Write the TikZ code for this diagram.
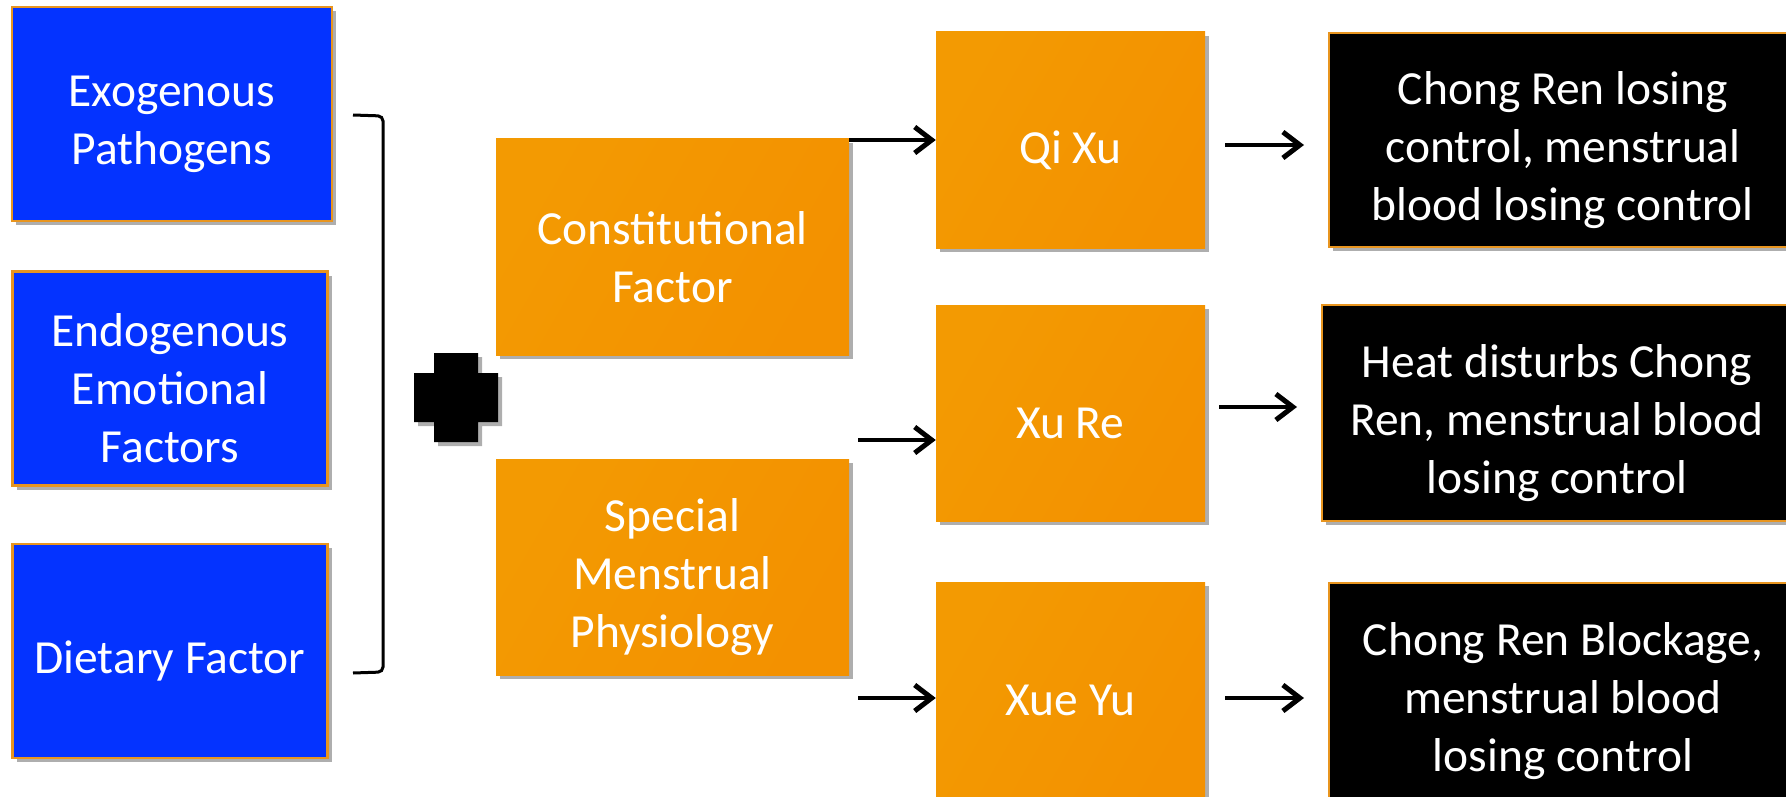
\documentclass[tikz,border=0pt]{standalone}
\usepackage{fontspec}
\setmainfont{Carlito}
\usetikzlibrary{shadows,arrows.meta}
\definecolor{bblue}{HTML}{0433FF}
\definecolor{bord}{HTML}{E8951F}
\definecolor{orgA}{HTML}{F39A02}
\definecolor{orgB}{HTML}{F39100}
\begin{document}
\begin{tikzpicture}[x=1pt,y=-1pt,
  shad/.style={drop shadow={shadow xshift=4pt,shadow yshift=-4pt,opacity=0.45,fill=black!70}},
  txt/.style={text=white, inner sep=0pt, align=center, font=\fontsize{47.5}{58}\selectfont},
  boxtext/.style={label={[txt,yshift=-10pt]center:{#1}}},
  bluebox/.style={shad, inner sep=0pt, draw=bord, line width=2.5pt, fill=bblue},
  orangebox/.style={shad, inner sep=0pt, left color=orgA, right color=orgB, shading angle=60},
  blackbox/.style={shad, inner sep=0pt, draw=bord, line width=2.5pt, fill=black},
  arr/.style={line width=4pt, -{Straight Barb[length=17pt,width=26pt,line width=5pt]}},
  brk/.style={line width=3pt, rounded corners=5pt}
]
\useasboundingbox (0,0) rectangle (1786,797);
\clip (0,0) rectangle (1786,797);

% left blue boxes
\node[bluebox, minimum width=320pt, minimum height=214pt, boxtext={Exogenous\\Pathogens}] (exo) at (172,114) {};
\node[bluebox, minimum width=315pt, minimum height=214pt, boxtext={Endogenous\\Emotional\\Factors}] (endo) at (170,378.5) {};
\node[bluebox, minimum width=315pt, minimum height=214pt, boxtext={Dietary Factor}] (diet) at (170,651) {};

% bracket
\coordinate (bt) at (353,115);
\coordinate (bb) at (353,673);
\draw[brk] (bt) -- ++(30,1) -- ++(0,556) -- (bb);

% plus sign
\path[shad, fill=black] (434,353) -- (478,353) -- (478,373) -- (498,373) -- (498,422) -- (478,422)
  -- (478,442) -- (434,442) -- (434,422) -- (414,422) -- (414,373) -- (434,373) -- cycle;

% middle orange boxes
\node[orangebox, minimum width=353pt, minimum height=216pt, boxtext={Constitutional\\Factor}] (const) at (672.5,247) {};
\node[orangebox, minimum width=353pt, minimum height=216pt, boxtext={Special\\Menstrual\\Physiology}] (spec) at (672.5,567) {};

% right orange boxes
\node[orangebox, minimum width=269pt, minimum height=216pt, boxtext={Qi Xu}] (qixu) at (1070.5,140) {};
\node[orangebox, minimum width=269pt, minimum height=216pt, boxtext={Xu Re}] (xure) at (1070.5,413) {};
\node[orangebox, minimum width=269pt, minimum height=216pt, boxtext={Xue Yu}] (xueyu) at (1070.5,690) {};

% black boxes
\node[blackbox, minimum width=468pt, minimum height=214pt, boxtext={Chong Ren losing\\control, menstrual\\blood losing control}] (b1) at (1563,140) {};
\node[blackbox, minimum width=470pt, minimum height=216pt, boxtext={Heat disturbs Chong\\Ren, menstrual blood\\losing control}] (b2) at (1557,413) {};
\node[blackbox, minimum width=468pt, minimum height=216pt, boxtext={Chong Ren Blockage,\\menstrual blood\\losing control}] (b3) at (1563,691) {};

% arrows into second column
\draw[arr] (const.north east |- qixu.west) -- (qixu.west);
\coordinate (s2) at (858,440);
\draw[arr] (s2) -- (s2 -| xure.west);
\coordinate (s3) at (858,698);
\draw[arr] (s3) -- (s3 -| xueyu.west);

% arrows to outcomes
\coordinate (o1a) at (1225,145);
\coordinate (o1b) at (1304,145);
\draw[arr] (o1a) -- (o1b);
\coordinate (o2a) at (1219,407);
\coordinate (o2b) at (1297,407);
\draw[arr] (o2a) -- (o2b);
\coordinate (o3a) at (1225,698);
\coordinate (o3b) at (1304,698);
\draw[arr] (o3a) -- (o3b);
\end{tikzpicture}
\end{document}
